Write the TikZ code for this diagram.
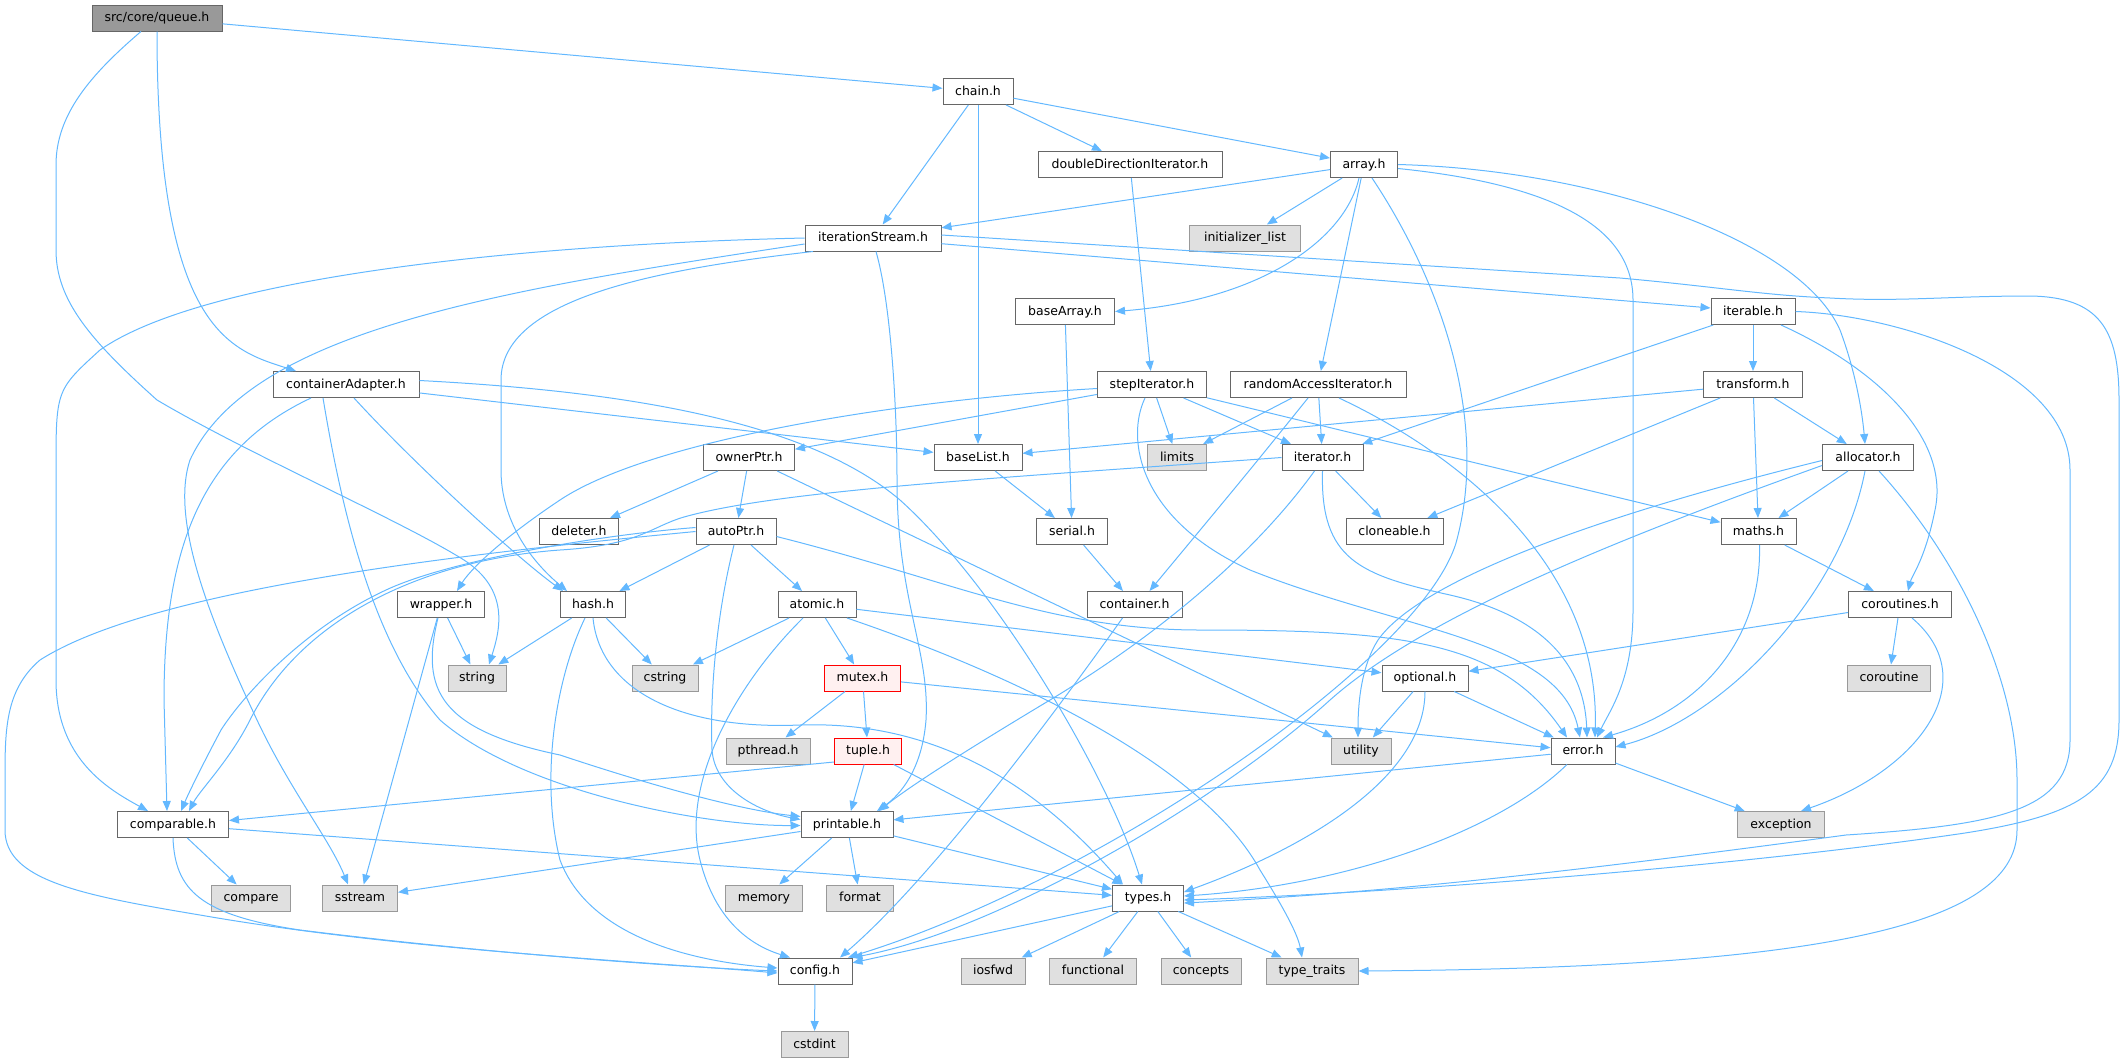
\documentclass[tikz,border=0pt]{standalone}
\usepackage{fontspec}
\setmainfont{DejaVu Sans}
\usetikzlibrary{arrows.meta}
\definecolor{edgeblue}{HTML}{63B8FF}
\definecolor{boxgray}{HTML}{666666}
\definecolor{sysline}{HTML}{999999}
\definecolor{sysfill}{HTML}{E0E0E0}
\definecolor{rootfill}{HTML}{999999}
\definecolor{cutfill}{HTML}{FFF0F0}

\begin{document}
\begin{tikzpicture}
        [x=1pt, y=-1pt, every node/.style={draw=boxgray, fill=white, line width=1pt, inner sep=0, minimum height=26pt, text height=9.5pt, text depth=2.5pt, font=\fontsize{12.5}{15}\selectfont},
        sys/.style={draw=sysline, fill=sysfill}, root/.style={draw=boxgray, fill=rootfill}, cut/.style={draw=red, fill=cutfill},
        dep/.style={draw=edgeblue, line width=1pt, -{Triangle[length=10pt,width=8pt]}}]

        \useasboundingbox (0,0) rectangle (2125,1063);

        \node[root, minimum width=130] (queue) at (157,18) {src/core/queue.h};
        \node[minimum width=70] (chain) at (978,91.5) {chain.h};
        \node[minimum width=184] (doubleDirectionIterator) at (1130,164.5) {doubleDirectionIterator.h};
        \node[minimum width=67] (array) at (1364,164.5) {array.h};
        \node[minimum width=136] (iterationStream) at (873,238) {iterationStream.h};
        \node[sys, minimum width=111] (initializerList) at (1245,238) {initializer\_list};
        \node[minimum width=99] (baseArray) at (1065,311.5) {baseArray.h};
        \node[minimum width=84] (iterable) at (1753,311.5) {iterable.h};
        \node[minimum width=146] (containerAdapter) at (346,384.5) {containerAdapter.h};
        \node[minimum width=109] (stepIterator) at (1152,384.5) {stepIterator.h};
        \node[minimum width=176] (randomAccessIterator) at (1318,384.5) {randomAccessIterator.h};
        \node[minimum width=99] (transform) at (1753,384.5) {transform.h};
        \node[minimum width=91] (ownerPtr) at (749,457.5) {ownerPtr.h};
        \node[minimum width=88] (baseList) at (978,457.5) {baseList.h};
        \node[sys, minimum width=59] (limits) at (1177,457.5) {limits};
        \node[minimum width=81] (iterator) at (1322.5,457.5) {iterator.h};
        \node[minimum width=91] (allocator) at (1868,457.5) {allocator.h};
        \node[minimum width=79] (deleter) at (579,531.5) {deleter.h};
        \node[minimum width=80] (autoPtr) at (736,531.5) {autoPtr.h};
        \node[minimum width=71] (serial) at (1072,531.5) {serial.h};
        \node[minimum width=97] (cloneable) at (1394.5,531.5) {cloneable.h};
        \node[minimum width=75] (maths) at (1758.5,531.5) {maths.h};
        \node[minimum width=87] (wrapper) at (441,604.5) {wrapper.h};
        \node[minimum width=65] (hash) at (593,604.5) {hash.h};
        \node[minimum width=78] (atomic) at (817,604.5) {atomic.h};
        \node[minimum width=95] (container) at (1134.5,604.5) {container.h};
        \node[minimum width=103] (coroutines) at (1900,604.5) {coroutines.h};
        \node[sys, minimum width=58] (string) at (477,678) {string};
        \node[sys, minimum width=66] (cstring) at (665,678) {cstring};
        \node[cut, minimum width=76] (mutex) at (862.5,678) {mutex.h};
        \node[minimum width=86] (optional) at (1425,678) {optional.h};
        \node[sys, minimum width=83] (coroutine) at (1889,678) {coroutine};
        \node[sys, minimum width=84] (pthread) at (768,751) {pthread.h};
        \node[cut, minimum width=67] (tuple) at (868,751) {tuple.h};
        \node[sys, minimum width=60] (utility) at (1361,751) {utility};
        \node[minimum width=64] (error) at (1583,751) {error.h};
        \node[minimum width=111] (comparable) at (173,824.5) {comparable.h};
        \node[minimum width=92] (printable) at (847,824.5) {printable.h};
        \node[sys, minimum width=87] (exception) at (1781,824.5) {exception};
        \node[sys, minimum width=79] (compare) at (251,898) {compare};
        \node[sys, minimum width=75] (sstream) at (360,898) {sstream};
        \node[sys, minimum width=77] (memory) at (764,898) {memory};
        \node[sys, minimum width=67] (format) at (860,898) {format};
        \node[minimum width=71] (types) at (1148,898) {types.h};
        \node[minimum width=74] (config) at (815,971) {config.h};
        \node[sys, minimum width=64] (iosfwd) at (993,971) {iosfwd};
        \node[sys, minimum width=87] (functional) at (1093,971) {functional};
        \node[sys, minimum width=80] (concepts) at (1201,971) {concepts};
        \node[sys, minimum width=92] (typeTraits) at (1312,971) {type\_traits};
        \node[sys, minimum width=67] (cstdint) at (814.5,1044.5) {cstdint};

        \draw[dep] (queue) -- (chain);
        \draw[dep] (queue.south) .. controls (157,330) and (230,350) .. ([xshift=-50pt]containerAdapter.north);
        \draw[dep] ([xshift=-16pt]queue.south) .. controls (90,75) and (56,115) .. (56,165) -- (56,250) .. controls (56,300) and (90,340) .. (157,400) .. controls (250,455) and (400,520) .. (464,560) .. controls (510,590) and (500,630) .. ([xshift=12pt]string.north);
        \draw[dep] (chain) -- (iterationStream);
        \draw[dep] (chain) -- (baseList);
        \draw[dep] (chain) -- (doubleDirectionIterator);
        \draw[dep] (chain) -- (array);
        \draw[dep] (doubleDirectionIterator) -- (stepIterator);
        \draw[dep] (array) -- (iterationStream);
        \draw[dep] (array) -- (initializerList);
        \draw[dep] ([xshift=-5pt]array.south) .. controls (1345,240) and (1260,300) .. (baseArray.east);
        \draw[dep] (array) -- (randomAccessIterator);
        \draw[dep] ([xshift=8pt]array.south) .. controls (1440,280) and (1490,420) .. (1456,543) .. controls (1420,660) and (1100,880) .. ([xshift=33pt]config.north);
        \draw[dep] (array.east) .. controls (1600,170) and (1800,240) .. (1840,330) .. controls (1855,370) and (1862,410) .. ([xshift=-3pt]allocator.north);
        \draw[dep] ([yshift=-4pt]array.east) .. controls (1560,185) and (1633,230) .. (1633,300) -- (1633,610) .. controls (1633,680) and (1610,710) .. ([xshift=14pt]error.north);
        \draw[dep] (iterationStream.west) .. controls (500,245) and (200,280) .. (100,350) .. controls (56,390) .. (56,470) -- (56,680) .. controls (56,760) and (110,790) .. ([xshift=-25pt]comparable.north);
        \draw[dep] ([yshift=-6pt]iterationStream.west) .. controls (500,290) and (250,330) .. (190,460) .. controls (170,520) and (210,620) .. (257,720) .. controls (290,790) and (330,840) .. ([xshift=-12pt]sstream.north);
        \draw[dep] ([xshift=-60pt]iterationStream.south) .. controls (650,270) and (501,300) .. (501,380) -- (501,470) .. controls (501,520) and (530,560) .. ([xshift=-26pt]hash.north);
        \draw[dep] ([xshift=3pt]iterationStream.south) .. controls (890,300) and (897,400) .. (897,480) .. controls (897,600) and (930,650) .. (926,720) .. controls (922,770) and (900,795) .. ([xshift=30pt]printable.north);
        \draw[dep] (iterationStream) -- (iterable);
        \draw[dep] ([yshift=3pt]iterationStream.east) -- (1620,278) .. controls (1720,287) and (1760,295) .. (1830,298) .. controls (1900,302) and (1950,296) .. (2030,296) .. controls (2100,297) and (2119,330) .. (2119,400) -- (2119,720) .. controls (2119,790) and (2080,815) .. (1965,833) .. controls (1750,865) and (1400,893) .. ([yshift=-2pt]types.east);
        \draw[dep] (iterable) -- (transform);
        \draw[dep] (iterable) -- (iterator);
        \draw[dep] ([xshift=28pt]iterable.south) .. controls (1880,370) and (1950,440) .. (1935,510) .. controls (1925,560) and (1912,575) .. ([xshift=8pt]coroutines.north);
        \draw[dep] (iterable.east) .. controls (1900,315) and (2070,370) .. (2070,470) -- (2070,740) .. controls (2070,810) and (2000,825) .. (1846,835) .. controls (1600,868) and (1400,892) .. ([yshift=-5pt]types.east);
        \draw[dep] (containerAdapter) -- (baseList);
        \draw[dep] ([yshift=4pt]containerAdapter.east) .. controls (600,390) and (800,415) .. (900,500) .. controls (1000,590) and (1110,780) .. ([xshift=-6pt]types.north);
        \draw[dep] ([xshift=-35pt]containerAdapter.south) .. controls (200,450) and (164,550) .. (164,700) -- ([xshift=-6pt]comparable.north);
        \draw[dep] ([xshift=-23pt]containerAdapter.south) .. controls (340,500) and (370,640) .. (440,720) .. controls (520,790) and (700,826) .. ([yshift=-1pt]printable.west);
        \draw[dep] ([xshift=8pt]containerAdapter.south) .. controls (420,470) and (520,560) .. ([xshift=-30pt]hash.north);
        \draw[dep] ([yshift=-4pt]stepIterator.west) .. controls (900,400) and (650,440) .. (560,500) .. controls (500,540) and (470,570) .. ([xshift=16pt]wrapper.north);
        \draw[dep] (stepIterator) -- (ownerPtr);
        \draw[dep] (stepIterator) -- (limits);
        \draw[dep] (stepIterator) -- (iterator);
        \draw[dep] (stepIterator) -- (maths);
        \draw[dep] ([xshift=-7pt]stepIterator.south) .. controls (1125,440) and (1140,520) .. (1250,570) .. controls (1400,630) and (1560,640) .. ([xshift=-3pt]error.north);
        \draw[dep] (randomAccessIterator) -- (limits);
        \draw[dep] ([xshift=-10pt]randomAccessIterator.south) .. controls (1250,470) .. ([xshift=15pt]container.north);
        \draw[dep] (randomAccessIterator) -- (iterator);
        \draw[dep] ([xshift=21pt]randomAccessIterator.south) .. controls (1450,450) and (1600,560) .. ([xshift=12pt]error.north);
        \draw[dep] (iterator.west) .. controls (1000,478) and (780,490) .. (684,517) .. controls (650,527) and (640,545) .. (560,550) .. controls (420,560) and (300,620) .. (250,720) .. controls (230,760) and (200,790) .. ([xshift=16pt]comparable.north);
        \draw[dep] ([xshift=-8pt]iterator.south) .. controls (1250,560) and (1150,640) .. (1050,700) .. controls (950,760) and (905,790) .. ([xshift=32pt]printable.north);
        \draw[dep] (iterator.south) .. controls (1320,560) and (1360,575) .. (1450,595) .. controls (1560,620) and (1585,680) .. ([xshift=4pt]error.north);
        \draw[dep] (iterator) -- (cloneable);
        \draw[dep] (transform) -- (baseList);
        \draw[dep] (transform) -- (cloneable);
        \draw[dep] (transform) -- (maths);
        \draw[dep] (transform) -- (allocator);
        \draw[dep] (baseArray) -- (serial);
        \draw[dep] (baseList) -- (serial);
        \draw[dep] (serial) -- (container);
        \draw[dep] ([xshift=-12pt]container.south) .. controls (1050,720) and (930,880) .. ([xshift=25pt]config.north);
        \draw[dep] (ownerPtr) -- (deleter);
        \draw[dep] (ownerPtr) -- (autoPtr);
        \draw[dep] (ownerPtr) -- (utility);
        \draw[dep] ([yshift=4pt]autoPtr.west) .. controls (600,535) and (450,560) .. (386,590) .. controls (300,630) and (240,700) .. (221,730) .. controls (205,760) and (190,790) .. ([xshift=8pt]comparable.north);
        \draw[dep] (autoPtr.west) .. controls (450,555) and (150,590) .. (40,660) .. controls (5,690) and (5,730) .. (5,780) -- (5,830) .. controls (5,880) and (80,895) .. (200,915) .. controls (400,950) and (650,962) .. ([yshift=-2pt]config.west);
        \draw[dep] (autoPtr) -- (hash);
        \draw[dep] ([xshift=-2pt]autoPtr.south) .. controls (715,620) and (710,700) .. (712,750) .. controls (715,790) and (760,812) .. ([yshift=5pt]printable.west);
        \draw[dep] (autoPtr) -- (atomic);
        \draw[dep] ([yshift=-5pt]autoPtr.east) .. controls (950,580) and (1050,630) .. (1200,630) .. controls (1400,630) and (1500,640) .. ([xshift=-16pt]error.north);
        \draw[dep] (hash) -- (string);
        \draw[dep] ([xshift=-8pt]hash.south) .. controls (555,680) and (540,780) .. (560,860) .. controls (590,940) and (700,962) .. ([yshift=3pt]config.west);
        \draw[dep] (hash.south) .. controls (600,690) and (680,730) .. (800,725) .. controls (950,720) and (1050,800) .. ([xshift=-25pt]types.north);
        \draw[dep] (hash) -- (cstring);
        \draw[dep] (wrapper) -- (string);
        \draw[dep] (wrapper) -- (sstream);
        \draw[dep] ([xshift=-3pt]wrapper.south) .. controls (420,690) and (440,730) .. (560,755) .. controls (650,785) and (740,810) .. ([yshift=8pt]printable.west);
        \draw[dep] (atomic) -- (cstring);
        \draw[dep] ([xshift=-14pt]atomic.south) .. controls (740,680) and (680,780) .. (700,860) .. controls (715,920) and (750,945) .. ([xshift=-25pt]config.north);
        \draw[dep] (atomic) -- (mutex);
        \draw[dep] (atomic) -- (optional);
        \draw[dep] ([xshift=30pt]atomic.south) .. controls (1000,670) and (1200,760) .. (1260,870) .. controls (1285,910) and (1298,935) .. ([xshift=-10pt]typeTraits.north);
        \draw[dep] (mutex) -- (pthread);
        \draw[dep] (mutex) -- (tuple);
        \draw[dep] (mutex) -- (error);
        \draw[dep] ([yshift=-11pt]tuple.west) -- ([yshift=4pt]comparable.east);
        \draw[dep] (tuple) -- (printable);
        \draw[dep] (tuple) -- (types);
        \draw[dep] (printable) -- (sstream);
        \draw[dep] (printable) -- (memory);
        \draw[dep] (printable) -- (format);
        \draw[dep] (printable) -- (types);
        \draw[dep] (comparable) -- (compare);
        \draw[dep] (comparable) -- (types);
        \draw[dep] (comparable.south) .. controls (175,890) and (200,915) .. (300,930) .. controls (500,955) and (700,968) .. (config.west);
        \draw[dep] (types) -- (config);
        \draw[dep] (types) -- (iosfwd);
        \draw[dep] (types) -- (functional);
        \draw[dep] (types) -- (concepts);
        \draw[dep] (types) -- (typeTraits);
        \draw[dep] (config) -- (cstdint);
        \draw[dep] (error) -- (printable);
        \draw[dep] ([xshift=-16pt]error.south) .. controls (1500,830) and (1350,885) .. ([yshift=2pt]types.east);
        \draw[dep] (error) -- (exception);
        \draw[dep] (optional) -- (utility);
        \draw[dep] (optional) -- (error);
        \draw[dep] (optional.south) .. controls (1425,780) and (1300,850) .. ([yshift=6pt]types.east);
        \draw[dep] (coroutines) -- (optional);
        \draw[dep] (coroutines) -- (coroutine);
        \draw[dep] ([xshift=12pt]coroutines.south) .. controls (1985,680) and (1920,770) .. ([xshift=20pt]exception.north);
        \draw[dep] (maths) -- (coroutines);
        \draw[dep] ([xshift=1pt]maths.south) .. controls (1762,640) and (1700,710) .. ([xshift=20pt]error.north);
        \draw[dep] (allocator) -- (maths);
        \draw[dep] ([yshift=-3pt]allocator.west) .. controls (1600,515) and (1420,580) .. (1378,640) .. controls (1362,665) and (1358,700) .. ([xshift=-3pt]utility.north);
        \draw[dep] ([yshift=-8pt]allocator.west) .. controls (1600,545) and (1420,620) .. (1330,700) .. controls (1220,800) and (1000,930) .. (config.north east);
        \draw[dep] ([xshift=-3pt]allocator.south) .. controls (1840,600) and (1720,720) .. ([yshift=4pt]error.east);
        \draw[dep] ([xshift=11pt]allocator.south) .. controls (1960,560) and (2017,680) .. (2017,780) -- (2017,830) .. controls (2017,930) and (1800,968) .. (typeTraits.east);
      \end{tikzpicture}
\end{document}
